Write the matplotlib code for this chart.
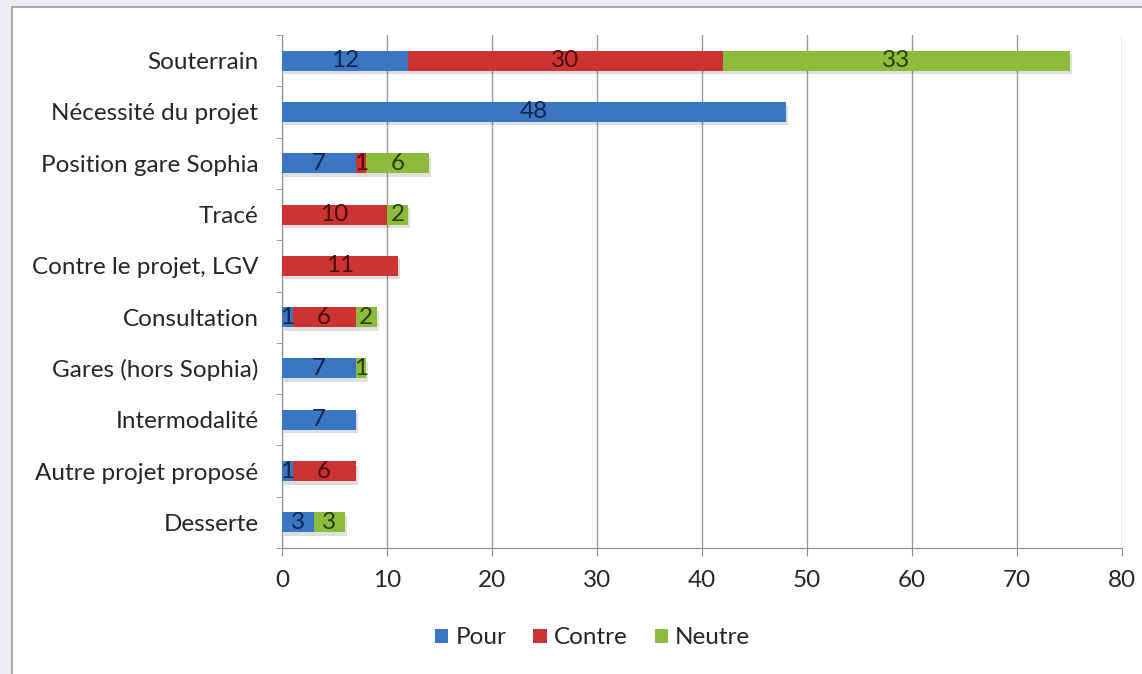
import matplotlib.pyplot as plt
import matplotlib.patheffects as pe
from matplotlib.patches import Rectangle, Patch
import numpy as np

categories = ['Souterrain', 'Nécessité du projet', 'Position gare Sophia', 'Tracé',
              'Contre le projet, LGV', 'Consultation', 'Gares (hors Sophia)',
              'Intermodalité', 'Autre projet proposé', 'Desserte']
pour = [12, 48, 7, 0, 0, 1, 7, 7, 1, 3]
contre = [30, 0, 1, 10, 11, 6, 0, 0, 6, 0]
neutre = [33, 0, 6, 2, 0, 2, 1, 0, 0, 3]

series = [('Pour', pour, '#3b76c3', '#13264f'),
          ('Contre', contre, '#cc3434', '#4e0c0c'),
          ('Neutre', neutre, '#8dbb3c', '#2c3d0c')]

plt.rcParams['font.family'] = ['Lato', 'DejaVu Sans']
FS = 17.5

fig = plt.figure(figsize=(11.42, 6.74), dpi=100)
fig.patch.set_facecolor('#eceef1')
fig.patches.append(Rectangle((12 / 1142, -0.1), 1.2, 1 - 7 / 674 + 0.1,
                             transform=fig.transFigure, facecolor='white',
                             edgecolor='#9a9a9a', linewidth=1.2, zorder=-5))

ax = fig.add_axes([282 / 1142, 1 - 548 / 674, 840 / 1142, 513 / 674])
ax.set_facecolor('none')

y = np.arange(len(categories))
left = np.zeros(len(categories))
shadow = [pe.SimplePatchShadow(offset=(1.5, -2.5), alpha=0.15), pe.Normal()]
handles = []
for name, vals, color, tcolor in series:
    vals = np.array(vals, dtype=float)
    bars = ax.barh(y, vals, left=left, height=0.39, color=color, zorder=3)
    for b in bars:
        b.set_path_effects(shadow)
    for yi, l, v in zip(y, left, vals):
        if v > 0:
            ax.text(l + v / 2, yi, '%d' % v, ha='center', va='center',
                    fontsize=FS, color=tcolor, zorder=4)
    left += vals
    handles.append(Patch(facecolor=color, label=name))

ax.set_xlim(0, 80)
ax.set_ylim(len(categories) - 0.5, -0.5)
ax.set_xticks(range(0, 81, 10))
ax.set_yticks(y)
ax.set_yticklabels(categories)
ax.set_yticks(np.arange(-0.5, len(categories), 1), minor=True)
ax.tick_params(axis='y', which='major', length=0, pad=17, labelsize=FS, labelcolor='#262626')
ax.tick_params(axis='y', which='minor', length=4.5, color='#8c8c8c', direction='out')
ax.tick_params(axis='x', length=6, color='#8c8c8c', pad=10, labelsize=FS, labelcolor='#262626')
ax.grid(axis='x', color='#9a9a9a', linewidth=1, zorder=0)
for s in ['top', 'right']:
    ax.spines[s].set_visible(False)
for s in ['left', 'bottom']:
    ax.spines[s].set_color('#8c8c8c')
ax.set_axisbelow(True)

fig.legend(handles=handles, loc='center', bbox_to_anchor=(0.519, 1 - 638 / 674), ncol=3,
           frameon=False, fontsize=FS, handlelength=0.55, handleheight=0.55,
           handletextpad=0.3, columnspacing=1.1, labelcolor='#262626')

fig.savefig('out.png', dpi=100, facecolor=fig.get_facecolor())
